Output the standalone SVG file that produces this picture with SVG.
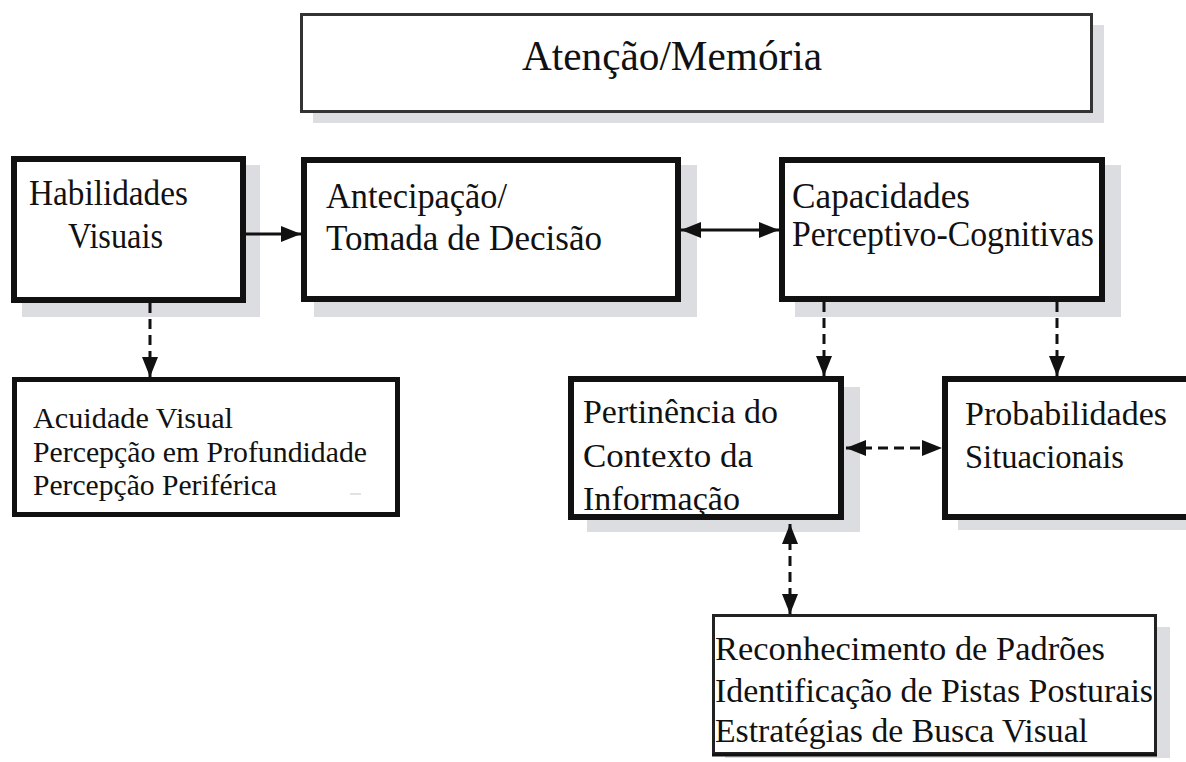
<svg xmlns="http://www.w3.org/2000/svg" width="1186" height="762" viewBox="0 0 1186 762">
<style>
  .shadow { fill: #dcdde0; }
  .box { fill: #ffffff; stroke: #111111; stroke-width: 6; }
  .thin { fill: #ffffff; stroke: #222222; stroke-width: 3; }
  .top { fill: #ffffff; stroke: #333333; stroke-width: 3; }
  text { font-family: "Liberation Serif", "Times New Roman", Times, serif; fill: #111111; font-size: 34px; }
  .tall { font-size: 36px; }
  .small { font-size: 30px; }
  .big { font-size: 42px; }
  .solid { fill: none; stroke: #111111; stroke-width: 3; }
  .dash { fill: none; stroke: #111111; stroke-width: 3; stroke-dasharray: 10 6; }
</style>
<defs>
  <marker id="arr" viewBox="0 0 20 16" refX="20" refY="8" markerWidth="20" markerHeight="16" markerUnits="userSpaceOnUse" orient="auto-start-reverse">
    <path d="M0,0 L20,8 L0,16 z" fill="#111111"/>
  </marker>
</defs>
<rect width="1186" height="762" fill="#ffffff"/>

<g id="atencao">
  <rect class="shadow" x="313" y="25" width="791" height="98"/>
  <rect class="top" x="301.5" y="14.5" width="790" height="97"/>
  <text class="big" x="522" y="70" textLength="300" lengthAdjust="spacingAndGlyphs">Atenção/Memória</text>
</g>

<g id="habilidades">
  <rect class="shadow" x="22" y="165" width="238" height="152"/>
  <rect class="box" x="14" y="159" width="229" height="141"/>
  <text class="tall" x="29" y="205" textLength="159" lengthAdjust="spacingAndGlyphs">Habilidades</text>
  <text class="tall" x="68" y="248" textLength="95" lengthAdjust="spacingAndGlyphs">Visuais</text>
</g>

<g id="antecipacao">
  <rect class="shadow" x="314" y="165" width="383" height="152"/>
  <rect class="box" x="304" y="160" width="374" height="139"/>
  <text class="tall" x="326" y="208" textLength="181" lengthAdjust="spacingAndGlyphs">Antecipação/</text>
  <text class="tall" x="326" y="250" textLength="276" lengthAdjust="spacingAndGlyphs">Tomada de Decisão</text>
</g>

<g id="capacidades">
  <rect class="shadow" x="795" y="165" width="326" height="152"/>
  <rect class="box" x="782" y="160" width="320" height="139"/>
  <text class="tall" x="792" y="208" textLength="178" lengthAdjust="spacingAndGlyphs">Capacidades</text>
  <text class="tall" x="792" y="246" textLength="302" lengthAdjust="spacingAndGlyphs">Perceptivo-Cognitivas</text>
</g>

<g id="acuidade">
  <rect class="box" x="14.5" y="379.5" width="383" height="135" style="stroke-width:5"/>
  <text class="small" x="33" y="428" textLength="200" lengthAdjust="spacingAndGlyphs">Acuidade Visual</text>
  <text class="small" x="33" y="462" textLength="334" lengthAdjust="spacingAndGlyphs">Percepção em Profundidade</text>
  <text class="small" x="33" y="495" textLength="244" lengthAdjust="spacingAndGlyphs">Percepção Periférica</text>
  <line x1="350" y1="494" x2="361" y2="494" stroke="#d8d8d8" stroke-width="1.5"/>
</g>

<g id="pertinencia">
  <rect class="shadow" x="587" y="387" width="273" height="145"/>
  <rect class="box" x="571" y="379" width="270" height="138"/>
  <text x="583" y="423" textLength="195" lengthAdjust="spacingAndGlyphs">Pertinência do</text>
  <text x="583" y="467" textLength="170" lengthAdjust="spacingAndGlyphs">Contexto da</text>
  <text x="583" y="510" textLength="157" lengthAdjust="spacingAndGlyphs">Informação</text>
</g>

<g id="probabilidades">
  <rect class="shadow" x="958" y="387" width="260" height="143"/>
  <rect class="box" x="945" y="379" width="260" height="138"/>
  <text x="965" y="425" textLength="202" lengthAdjust="spacingAndGlyphs">Probabilidades</text>
  <text x="965" y="468" textLength="159" lengthAdjust="spacingAndGlyphs">Situacionais</text>
</g>

<g id="reconhecimento">
  <rect class="shadow" x="725" y="627" width="445" height="131"/>
  <rect class="thin" x="713.5" y="615.5" width="442" height="138"/>
  <line x1="712" y1="755" x2="1157" y2="755" stroke="#111111" stroke-width="3"/>
  <text x="715" y="660" textLength="390" lengthAdjust="spacingAndGlyphs">Reconhecimento de Padrões</text>
  <text x="715" y="702" textLength="438" lengthAdjust="spacingAndGlyphs">Identificação de Pistas Posturais</text>
  <text x="715" y="742" textLength="373" lengthAdjust="spacingAndGlyphs">Estratégias de Busca Visual</text>
</g>

<g id="connectors">
  <path class="solid" d="M246,234 L301,234" marker-end="url(#arr)"/>
  <path class="solid" d="M681,230 L779,230" marker-start="url(#arr)" marker-end="url(#arr)"/>
  <path class="dash" d="M150,303 L150,377" marker-end="url(#arr)"/>
  <path class="dash" d="M824,302 L824,376" marker-end="url(#arr)"/>
  <path class="dash" d="M1057,302 L1057,376" marker-end="url(#arr)"/>
  <path class="dash" d="M846,448 L942,448" marker-start="url(#arr)" marker-end="url(#arr)"/>
  <path class="dash" d="M790,524 L790,614" marker-start="url(#arr)" marker-end="url(#arr)"/>
</g>
</svg>
